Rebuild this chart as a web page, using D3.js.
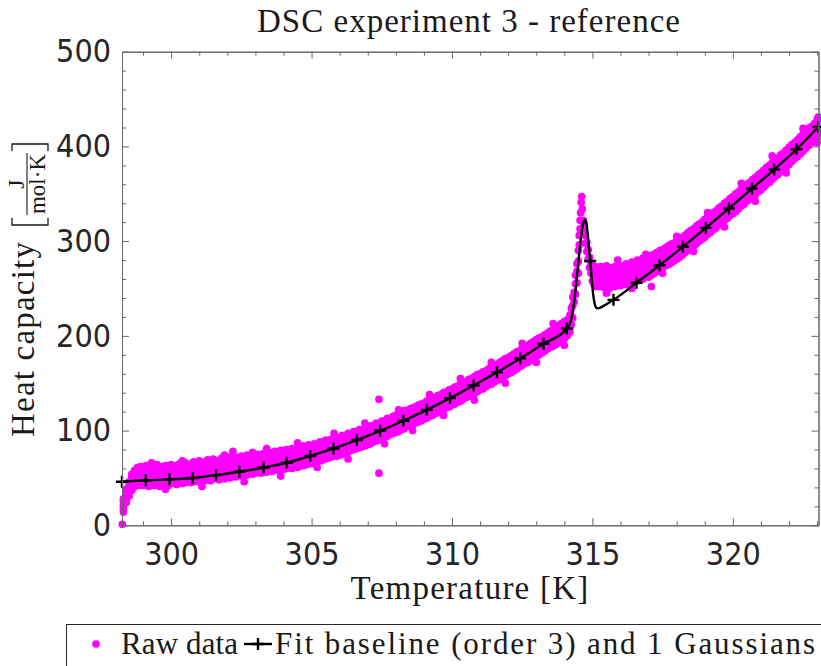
<!DOCTYPE html>
<html><head><meta charset="utf-8">
<script src="https://cdn.jsdelivr.net/npm/d3@7"></script>
<style>
body{margin:0;background:#fff}
svg{display:block}
.tick text{font-family:"DejaVu Sans Condensed","DejaVu Sans",sans-serif;font-stretch:condensed;font-size:32px;fill:#262626}
</style>
</head><body>
<svg id="c" width="821" height="666"></svg>
<script>
// ---- tick values ----
const xTicks=[300,305,310,315,320];
const xMinor=[299,301,302,303,304,306,307,308,309,311,312,313,314,316,317,318,319,321,322,323];
const yTicks=[0,100,200,300,400,500];
const yMinor=[20,40,60,80,120,140,160,180,220,240,260,280,320,340,360,380,420,440,460,480];

// ---- raw data (band: five dots across the band per temperature) ----
const rawT=[298.3,298.4,298.5,298.6,298.7,298.8,298.9,
299.0,299.1,299.2,299.3,299.4,299.5,299.6,299.7,299.8,299.9,
300.0,300.1,300.2,300.3,300.4,300.5,300.6,300.7,300.8,300.9,
301.0,301.1,301.2,301.3,301.4,301.5,301.6,301.7,301.8,301.9,
302.0,302.1,302.2,302.3,302.4,302.5,302.6,302.7,302.8,302.9,
303.0,303.1,303.2,303.3,303.4,303.5,303.6,303.7,303.8,303.9,
304.0,304.1,304.2,304.3,304.4,304.5,304.6,304.7,304.8,304.9,
305.0,305.1,305.2,305.3,305.4,305.5,305.6,305.7,305.8,305.9,
306.0,306.1,306.2,306.3,306.4,306.5,306.6,306.7,306.8,306.9,
307.0,307.1,307.2,307.3,307.4,307.5,307.6,307.7,307.8,307.9,
308.0,308.1,308.2,308.3,308.4,308.5,308.6,308.7,308.8,308.9,
309.0,309.1,309.2,309.3,309.4,309.5,309.6,309.7,309.8,309.9,
310.0,310.1,310.2,310.3,310.4,310.5,310.6,310.7,310.8,310.9,
311.0,311.1,311.2,311.3,311.4,311.5,311.6,311.7,311.8,311.9,
312.0,312.1,312.2,312.3,312.4,312.5,312.6,312.7,312.8,312.9,
313.0,313.1,313.2,313.3,313.4,313.5,313.6,313.7,313.8,313.9,
314.0,314.1,314.2,
315.2,315.3,315.4,315.5,315.6,315.7,315.8,315.9,
316.0,316.1,316.2,316.3,316.4,316.5,316.6,316.7,316.8,316.9,
317.0,317.1,317.2,317.3,317.4,317.5,317.6,317.7,317.8,317.9,
318.0,318.1,318.2,318.3,318.4,318.5,318.6,318.7,318.8,318.9,
319.0,319.1,319.2,319.3,319.4,319.5,319.6,319.7,319.8,319.9,
320.0,320.1,320.2,320.3,320.4,320.5,320.6,320.7,320.8,320.9,
321.0,321.1,321.2,321.3,321.4,321.5,321.6,321.7,321.8,321.9,
322.0,322.1,322.2,322.3,322.4,322.5,322.6,322.7,322.8,322.9,
323.0];
const rawLo=[14,24,31,37,41,42,43,
42,43,41,44,42,43,41,44,43,42,
44,45,43,46,44,45,47,45,46,47,
46,48,47,49,47,49,50,48,50,49,
51,50,52,51,53,52,54,53,55,54,
55,56,55,57,56,58,57,59,58,60,
59,60,61,60,62,61,63,63,64,65,
65,66,67,68,69,70,71,72,73,73,
74,75,77,77,79,80,81,82,83,84,
85,86,88,89,90,92,93,94,96,97,
98,99,101,102,104,105,106,108,109,110,
112,113,115,116,118,119,121,122,124,125,
127,128,130,131,133,135,136,138,139,141,
143,144,146,148,149,151,153,154,156,158,
160,161,163,165,167,169,171,172,174,176,
178,180,182,184,186,188,189,191,193,195,
197,200,204,
252,253,251,254,250,253,252,254,
253,255,254,257,256,259,258,261,260,263,
262,264,266,268,270,272,274,275,277,279,
281,283,285,288,290,293,295,297,300,302,
304,307,309,312,314,317,319,322,324,327,
329,331,334,337,339,342,344,347,349,352,
354,357,360,362,365,368,370,373,376,378,
381,384,387,389,392,395,398,401,404,406,
409];
const rawQ1=[17,27,34,41,45,46,48,
47,46,47,47,48,47,45,49,47,48,
48,48,49,50,50,50,50,51,51,51,
52,52,53,53,53,53,53,54,54,53,
56,54,57,55,58,56,59,57,60,58,
60,59,60,60,61,61,62,62,63,63,
64,64,66,64,67,66,68,67,69,69,
70,70,72,72,74,74,76,76,78,78,
79,79,82,82,84,84,86,86,88,89,
90,90,93,94,95,96,98,99,101,102,
103,103,106,107,109,110,110,113,114,115,
117,117,120,121,123,123,126,127,129,129,
132,132,135,136,138,139,141,143,144,145,
148,148,151,153,154,155,158,160,161,162,
165,165,168,170,172,173,176,178,179,180,
183,184,187,189,191,192,195,197,198,199,
202,204,209,
257,257,258,258,255,258,257,258,
259,259,260,261,262,263,264,265,266,267,
268,269,272,274,274,278,279,281,281,285,
286,287,291,293,295,297,301,303,305,306,
310,311,315,317,320,321,325,327,329,331,
334,335,340,342,345,346,350,352,355,356,
360,361,365,368,371,372,376,379,381,382,
386,388,392,395,398,399,404,406,409,410,
415];
const rawMid=[21,31,38,46,50,51,53,
52,50,53,51,54,52,50,54,52,55,
53,51,55,53,56,54,52,57,55,54,
57,55,58,56,59,57,56,60,58,57,
60,58,61,59,62,60,63,61,64,62,
64,62,65,63,66,64,67,65,68,66,
69,67,70,68,71,70,72,71,74,73,
75,74,77,76,79,78,81,79,82,83,
84,83,86,87,88,87,91,90,93,94,
95,94,98,99,100,99,103,104,105,107,
108,107,111,112,113,115,114,118,119,120,
122,121,125,126,128,127,131,132,134,133,
137,136,140,141,143,142,146,148,149,148,
153,152,156,158,159,158,163,165,166,165,
170,169,173,175,177,176,181,183,184,183,
188,187,192,194,196,195,200,202,203,202,
207,208,214,
263,261,264,262,260,263,262,261,
264,263,266,265,268,267,270,269,272,271,
274,273,277,279,278,283,284,286,285,290,
291,290,296,298,300,300,306,308,310,310,
315,314,320,322,325,324,330,332,334,334,
339,339,345,347,350,349,355,357,360,359,
365,365,370,373,376,375,381,384,386,386,
391,391,397,400,403,402,409,411,414,413,
420];
const rawQ3=[25,35,42,50,54,56,58,
57,57,57,57,58,58,56,58,58,58,
59,57,59,59,60,60,58,61,61,60,
63,61,63,63,63,64,62,64,65,63,
65,65,65,66,66,67,67,68,68,69,
69,69,70,70,71,71,72,72,73,73,
74,74,75,75,76,77,77,78,79,79,
80,80,81,82,83,84,85,85,86,88,
88,89,90,92,92,93,95,96,97,99,
99,100,102,104,104,105,107,109,109,111,
112,113,115,117,117,119,119,122,123,124,
126,126,129,130,132,132,135,136,138,138,
141,141,144,145,147,147,150,152,153,154,
157,157,160,162,163,164,167,169,170,171,
174,174,177,179,181,182,185,187,188,189,
192,193,196,198,200,200,204,206,207,208,
211,213,218,
268,267,268,268,266,267,268,266,
269,268,271,270,273,272,275,274,277,276,
279,279,282,284,284,287,289,291,291,294,
296,296,300,302,305,306,310,312,314,315,
319,320,324,326,329,330,334,336,338,340,
343,345,349,351,354,355,359,361,364,365,
369,370,374,377,380,381,385,388,390,391,
395,397,401,404,407,408,413,415,418,419,
424];
const rawHi=[28,38,46,54,58,61,62,
61,63,60,62,61,64,61,62,63,61,
64,62,63,65,63,66,64,65,67,66,
68,66,67,69,66,70,68,67,71,69,
70,72,69,72,70,73,71,74,72,75,
73,75,74,76,75,77,76,78,77,79,
78,80,79,81,80,83,81,84,83,85,
84,86,85,88,87,90,89,91,90,93,
92,95,94,97,96,99,98,101,100,103,
102,105,105,108,107,110,110,113,112,115,
116,118,118,121,120,123,124,125,127,128,
129,131,132,134,135,137,138,140,141,143,
144,146,147,149,150,152,154,155,157,159,
160,162,163,165,167,169,170,172,174,176,
177,179,181,183,184,187,188,190,192,194,
196,198,199,201,203,205,207,209,211,213,
215,217,222,
272,273,271,274,272,270,273,271,
274,273,276,275,278,277,280,279,282,281,
283,285,286,288,290,291,293,295,297,298,
300,302,304,306,309,311,313,316,318,320,
323,325,327,330,332,335,337,340,342,345,
347,350,352,355,357,360,362,365,367,370,
372,375,378,380,383,386,388,391,393,396,
399,402,404,407,410,413,416,419,421,424,
428];
// extra raw points: first point, outliers, the transition peak
const extraT=[298.26,302.2,302.9,307.4,307.4,
314.25,314.25,314.25,314.3,314.3,314.3,314.35,314.35,314.4,314.4,314.4,
314.45,314.45,314.45,314.5,314.5,314.5,314.53,314.53,314.56,314.56,
314.58,314.6,314.62,314.64,314.68,314.7,314.7,314.75,314.75,314.8,314.8,
314.85,314.85,314.9,314.9,314.95,314.95,315.0,315.0,315.05,315.05,
315.1,315.1,315.1,315.15,315.15,317.1,323.04,323.04];
const extraV=[1,78,77,133,55,
212,221,229,219,232,241,236,246,244,255,264,
256,268,276,266,279,290,296,306,313,322,
330,341,347,334,322,310,318,298,306,289,299,
281,291,272,283,266,277,258,270,255,266,
252,262,273,254,268,252,414,431];
// scattered dots sticking out of the band edges
const edgeT=[299.3,299.8,300.4,301.1,301.9,302.6,303.4,303.9,304.5,305.2,305.8,306.3,306.9,
307.6,308.1,308.6,309.2,309.7,310.3,310.8,311.4,311.9,312.5,313.0,313.6,314.0,
315.5,315.9,316.4,316.9,317.5,318.0,318.6,319.1,319.7,320.3,320.8,321.4,321.9,322.5,323.0];
const edgeV=[66,38,68,41,74,46,81,52,87,61,97,70,108,
86,122,100,138,116,155,132,172,150,192,172,213,190,
245,280,250,286,266,305,289,330,315,361,342,390,372,419,404];

// ---- fit: baseline (order 3) + 1 Gaussian ----
const fitT=[298.25,299.10,299.94,300.77,301.60,302.43,303.29,304.12,304.95,305.78,
306.61,307.44,308.27,309.10,309.93,310.77,311.60,312.43,313.26,314.09,
314.20,314.27,314.35,314.42,314.50,314.60,314.68,314.74,314.80,314.86,
314.92,314.98,315.03,315.08,315.14,315.20,315.30,315.45,315.60,315.75,
316.57,317.39,318.22,319.04,319.86,320.68,321.47,322.27,323.04];
const fitV=[46,47.5,48.5,50,53,56.5,61,66,73.2,81.1,
90,99.8,110.4,121.9,134.3,147.6,161.5,176.2,191.7,207.8,
213,221,236,254,278,305,319.5,322.3,316,298,
279,259,243,234,229.5,229,230,232.5,235.3,238,
256,274.5,294,314,334.5,355.5,375.5,397,420.5];
const markerT=[298.25,299.10,299.94,300.77,301.60,302.43,303.29,304.12,304.95,305.78,
306.61,307.44,308.27,309.10,309.93,310.77,311.60,312.43,313.26,314.09,
314.92,315.75,316.57,317.39,318.22,319.04,319.86,320.68,321.47,322.27,323.04];

const titleText="DSC experiment 3 - reference";
const xLabelText="Temperature [K]";
const yLabelText="Heat capacity";
const legendLabels=["Raw data","Fit baseline (order 3) and 1 Gaussians"];

// ---- drawing ----
const SERIF="'Liberation Serif','DejaVu Serif','Noto Serif','Times New Roman',serif";
const svg=d3.select("#c");
const L=122,R=818.5,T=51.7,B=525.3;
const x=d3.scaleLinear().domain([298.25,323.05]).range([L,R]);
const y=d3.scaleLinear().domain([0,500]).range([B,T]);
const axisCol="#666";

svg.append("rect").attr("x",L).attr("y",T).attr("width",R-L).attr("height",B-T).attr("fill","#fff");

// raw scatter
const raw=[];
rawT.forEach((t,i)=>{
  raw.push([t,rawLo[i]]);raw.push([t,rawQ1[i]]);raw.push([t,rawMid[i]]);
  raw.push([t,rawQ3[i]]);raw.push([t,rawHi[i]]);});
extraT.forEach((t,i)=>raw.push([t,extraV[i]]));
edgeT.forEach((t,i)=>raw.push([t,edgeV[i]]));
svg.append("g").selectAll("circle").data(raw).join("circle")
  .attr("cx",d=>x(d[0])).attr("cy",d=>y(d[1])).attr("r",3.85).attr("fill","#ff00ff");

// fit line
const fitPts=fitT.map((t,i)=>[t,fitV[i]]);
svg.append("path").datum(fitPts)
  .attr("d",d3.line().x(d=>x(d[0])).y(d=>y(d[1])).curve(d3.curveMonotoneX))
  .attr("fill","none").attr("stroke","#000").attr("stroke-width",2.4).attr("stroke-linejoin","round");
const plus="M-6,0H6M0,-6V6";
const mk=markerT.map(t=>[t,fitV[fitT.indexOf(t)]]);
svg.append("g").selectAll("path").data(mk).join("path")
  .attr("transform",d=>`translate(${x(d[0])},${y(d[1])})`)
  .attr("d",plus).attr("stroke","#000").attr("stroke-width",2.4).attr("fill","none");

// axes
function styleAxis(g){g.selectAll("path.domain").attr("stroke",axisCol).attr("stroke-width",1);
  g.selectAll(".tick line").attr("stroke",axisCol).attr("stroke-width",1);}
function addAxis(gen,tr){const g=svg.append("g").attr("transform",tr).call(gen);styleAxis(g);return g;}
addAxis(d3.axisBottom(x).tickValues(xTicks).tickSizeInner(-7).tickSizeOuter(0).tickPadding(17).tickFormat(d3.format("d")),`translate(0,${B})`);
addAxis(d3.axisBottom(x).tickValues(xMinor).tickSizeInner(-4).tickSizeOuter(0).tickFormat(""),`translate(0,${B})`);
addAxis(d3.axisTop(x).tickValues(xTicks).tickSizeInner(-7).tickSizeOuter(0).tickFormat(""),`translate(0,${T})`);
addAxis(d3.axisTop(x).tickValues(xMinor).tickSizeInner(-4).tickSizeOuter(0).tickFormat(""),`translate(0,${T})`);
addAxis(d3.axisLeft(y).tickValues(yTicks).tickSizeInner(-7).tickSizeOuter(0).tickPadding(11).tickFormat(d3.format("d")),`translate(${L},0)`);
addAxis(d3.axisLeft(y).tickValues(yMinor).tickSizeInner(-4).tickSizeOuter(0).tickFormat(""),`translate(${L},0)`);
addAxis(d3.axisRight(y).tickValues(yTicks).tickSizeInner(-7).tickSizeOuter(0).tickFormat(""),`translate(${R},0)`);
addAxis(d3.axisRight(y).tickValues(yMinor).tickSizeInner(-4).tickSizeOuter(0).tickFormat(""),`translate(${R},0)`);
svg.selectAll(".tick text").attr("font-family",null).attr("font-size",null);

function serifText(parent,xp,yp,size,str,len,anchor){
  const t=parent.append("text").attr("x",xp).attr("y",yp)
    .style("font-family",SERIF).attr("font-size",size).attr("fill","#1a1a1a").text(str);
  if(anchor) t.attr("text-anchor",anchor);
  if(len) t.attr("textLength",len).attr("lengthAdjust","spacing");
  return t;
}

// title & labels
serifText(svg,257,32,33,titleText,423);
serifText(svg,350.6,599,33,xLabelText,237.7);

const yl=svg.append("g").attr("transform","translate(34,437) rotate(-90)");
serifText(yl,0,0,33,yLabelText,195);
yl.append("path").attr("d","M219,-22H212V14H219").attr("fill","none").attr("stroke","#1a1a1a").attr("stroke-width",1.3);
yl.append("path").attr("d","M286,-22H293V14H286").attr("fill","none").attr("stroke","#1a1a1a").attr("stroke-width",1.3);
serifText(yl,253,-10.5,24,"J",null,"middle");
yl.append("line").attr("x1",222).attr("x2",284).attr("y1",-7).attr("y2",-7).attr("stroke","#1a1a1a").attr("stroke-width",1.1);
serifText(yl,253,11,23,"mol\u00B7K",null,"middle");

// legend
const lg=svg.append("g");
lg.append("rect").attr("x",66.5).attr("y",624.5).attr("width",800).attr("height",60)
  .attr("fill","#fff").attr("stroke","#262626").attr("stroke-width",1);
lg.append("circle").attr("cx",96).attr("cy",644).attr("r",3.85).attr("fill","#ff00ff");
serifText(lg,121,654,31,legendLabels[0],117);
lg.append("line").attr("x1",244).attr("x2",272).attr("y1",644).attr("y2",644).attr("stroke","#000").attr("stroke-width",2.4);
lg.append("path").attr("transform","translate(258,644)").attr("d",plus).attr("stroke","#000").attr("stroke-width",2.4);
serifText(lg,275,654,31,legendLabels[1],540);
</script>
</body></html>
